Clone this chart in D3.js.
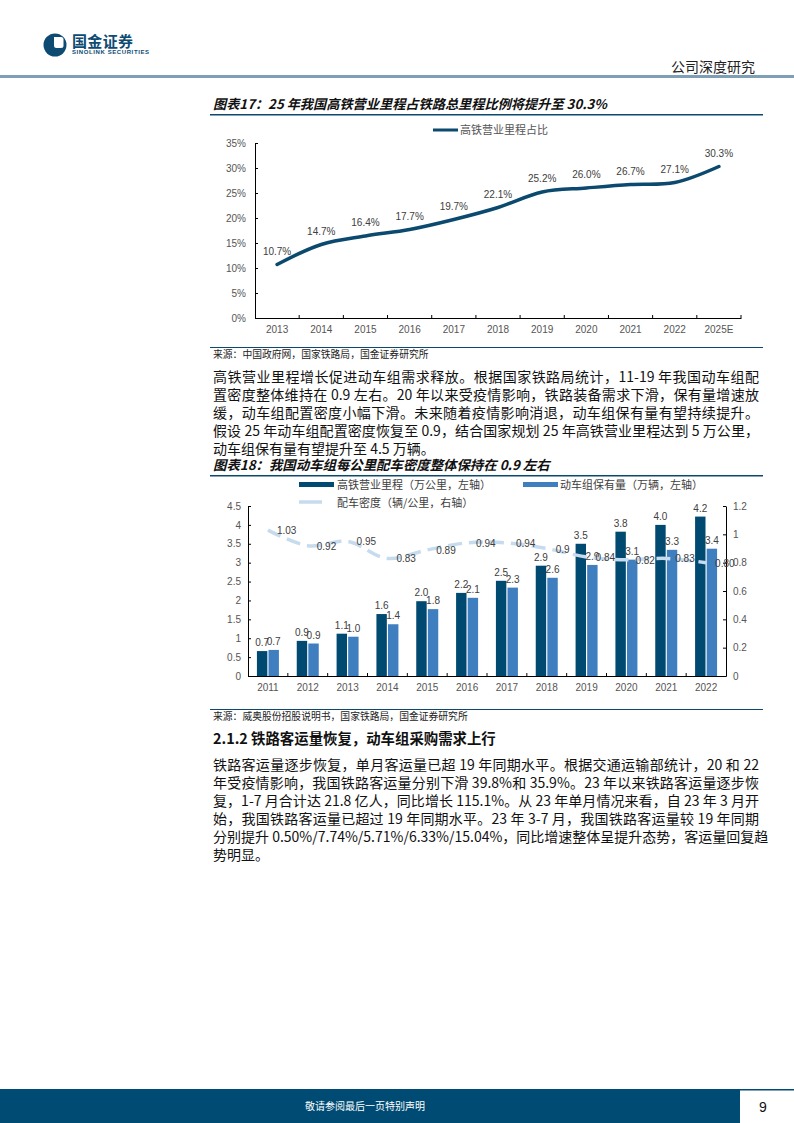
<!DOCTYPE html>
<html><head><meta charset="utf-8">
<script src="https://cdn.jsdelivr.net/npm/d3@7"></script>
<style>
html,body{margin:0;padding:0;background:#fff;}
#page{position:relative;width:794px;height:1123px;overflow:hidden;font-family:"Noto Sans CJK SC","Liberation Sans",sans-serif;}
svg{position:absolute;left:0;top:0;}
.line{position:absolute;left:213px;width:546px;font-size:14px;line-height:16px;height:16px;color:#111;white-space:nowrap;text-align:justify;text-align-last:justify;}
.line.last{text-align-last:left;}
</style></head>
<body><div id="page"><svg id="svg" width="794" height="1123"></svg></div>
<script>
// ---------- data ----------
const years1 = ["2013","2014","2015","2016","2017","2018","2019","2020","2021","2022","2025E"];
const hsrShare = [10.7,14.7,16.4,17.7,19.7,22.1,25.2,26.0,26.7,27.1,30.3];
const shareTicks = [0,5,10,15,20,25,30,35];
const legend1 = "高铁营业里程占比";

const years2 = ["2011","2012","2013","2014","2015","2016","2017","2018","2019","2020","2021","2022"];
const hsrMileage = [0.66,0.93,1.12,1.64,1.98,2.2,2.52,2.92,3.5,3.82,4.0,4.22];
const emuFleet = [0.69,0.86,1.04,1.37,1.77,2.07,2.34,2.6,2.94,3.08,3.34,3.37];
const density = [1.03,0.92,0.95,0.83,0.89,0.94,0.94,0.90,0.84,0.82,0.83,0.80];
const densityLabels = ["1.03","0.92","0.95","0.83","0.89","0.94","0.94","0.9","0.84","0.82","0.83","0.80"];
const leftTicks2 = [0,0.5,1,1.5,2,2.5,3,3.5,4,4.5];
const rightTicks2 = [0,0.2,0.4,0.6,0.8,1,1.2];
const legend2 = ["高铁营业里程（万公里，左轴）","动车组保有量（万辆，左轴）","配车密度（辆/公里，右轴）"];

const para1 = [
 "高铁营业里程增长促进动车组需求释放。根据国家铁路局统计，11-19 年我国动车组配",
 "置密度整体维持在 0.9 左右。20 年以来受疫情影响，铁路装备需求下滑，保有量增速放",
 "缓，动车组配置密度小幅下滑。未来随着疫情影响消退，动车组保有量有望持续提升。",
 "假设 25 年动车组配置密度恢复至 0.9，结合国家规划 25 年高铁营业里程达到 5 万公里，",
 "动车组保有量有望提升至 4.5 万辆。"];
const para2 = [
 "铁路客运量逐步恢复，单月客运量已超 19 年同期水平。根据交通运输部统计，20 和 22",
 "年受疫情影响，我国铁路客运量分别下滑 39.8%和 35.9%。23 年以来铁路客运量逐步恢",
 "复，1-7 月合计达 21.8 亿人，同比增长 115.1%。从 23 年单月情况来看，自 23 年 3 月开",
 "始，我国铁路客运量已超过 19 年同期水平。23 年 3-7 月，我国铁路客运量较 19 年同期",
 "分别提升 0.50%/7.74%/5.71%/6.33%/15.04%，同比增速整体呈提升态势，客运量回复趋",
 "势明显。"];

// ---------- page frame ----------
const NAVY = "#0b4a6e", DARK = "#004a72", LIGHT = "#3f7fc0", DENS = "#c6dbee";
const CJK = "'Noto Sans CJK SC', sans-serif", LAT = "'Liberation Sans', Arial, sans-serif";
const svg = d3.select("#svg");
const page = d3.select("#page");

// header logo
const logo = svg.append("g");
logo.append("circle").attr("cx",55).attr("cy",45).attr("r",11.5).attr("fill","#0d4b73");
logo.append("path").attr("d","M54,37 h7 a2.5,2.5 0 0 1 2.5,2.5 v6 a2.5,2.5 0 0 1 -2.5,2.5 h-4.5 a2.5,2.5 0 0 1 -2.5,-2.5 z").attr("fill","#fff");
svg.append("text").attr("x",72).attr("y",46.5).attr("font-family",CJK).attr("font-weight",700)
  .attr("font-size",15).attr("textLength",61).attr("fill","#0d4b73").text("国金证券");
svg.append("text").attr("x",72).attr("y",54).attr("font-family",LAT).attr("font-weight",700)
  .attr("font-size",6).attr("textLength",77).attr("fill","#0d4b73").text("SINOLINK SECURITIES");
svg.append("text").attr("x",755).attr("y",72).attr("text-anchor","end").attr("font-family",CJK)
  .attr("font-size",14).attr("fill","#222").text("公司深度研究");
svg.append("rect").attr("x",0).attr("y",75).attr("width",794).attr("height",3).attr("fill","#7f9fb6");

// footer
svg.append("rect").attr("x",0).attr("y",1089).attr("width",740).attr("height",34).attr("fill","#004b73");
svg.append("rect").attr("x",740).attr("y",1089).attr("width",54).attr("height",1.5).attr("fill","#004b73");
svg.append("text").attr("x",365).attr("y",1110).attr("text-anchor","middle").attr("font-family",CJK)
  .attr("font-size",10).attr("fill","#fff").text("敬请参阅最后一页特别声明");
svg.append("text").attr("x",763).attr("y",1112).attr("text-anchor","middle").attr("font-family",LAT)
  .attr("font-size",14).attr("fill","#111").text("9");

// titles, rules, sources
function title(y, txt, size){
  svg.append("text").attr("x",213).attr("y",y).attr("font-family",CJK).attr("font-weight",700)
    .attr("font-style","italic").attr("font-size",size).attr("fill","#111").text(txt);
}
title(109,"图表17：25 年我国高铁营业里程占铁路总里程比例将提升至 30.3%",13.2);
title(470,"图表18：我国动车组每公里配车密度整体保持在 0.9 左右",13.4);
[114,475].forEach(y=>svg.append("rect").attr("x",210).attr("y",y).attr("width",553).attr("height",1.5).attr("fill",NAVY));
[347,709].forEach(y=>svg.append("rect").attr("x",210).attr("y",y).attr("width",553).attr("height",1).attr("fill",NAVY));
svg.append("text").attr("x",213).attr("y",358).attr("font-family",CJK).attr("font-size",9.8).attr("fill","#222")
  .text("来源：中国政府网，国家铁路局，国金证券研究所");
svg.append("text").attr("x",213).attr("y",720).attr("font-family",CJK).attr("font-size",9.8).attr("fill","#222")
  .text("来源：威奥股份招股说明书，国家铁路局，国金证券研究所");
svg.append("text").attr("x",213).attr("y",744).attr("font-family",CJK).attr("font-weight",700)
  .attr("font-size",14.4).attr("fill","#111").text("2.1.2 铁路客运量恢复，动车组采购需求上行");

// paragraphs
function para(lines, top){
  lines.forEach((t,i)=>{
    page.append("div").attr("class","line"+(i===lines.length-1?" last":""))
      .style("top",(top+i*18)+"px").text(t);
  });
}
para(para1, 368);
para(para2, 756);

// ---------- chart 1 ----------
const c1 = svg.append("g");
const x1 = d3.scaleBand().domain(years1).range([255,741]);
const y1 = d3.scaleLinear().domain([0,35]).range([318,143]);
const cx1 = d => x1(d)+x1.bandwidth()/2;

const ya1 = c1.append("g").attr("transform","translate(255,0)")
  .call(d3.axisLeft(y1).tickValues(shareTicks).tickSize(-3).tickSizeOuter(0).tickPadding(9).tickFormat(d=>d+"%"));
const xa1 = c1.append("g").attr("transform","translate(0,318)")
  .call(d3.axisBottom(x1).tickSize(0).tickSizeOuter(0).tickPadding(8));
c1.append("g").selectAll("line").data(years1).join("line")
  .attr("x1",d=>x1(d)+x1.bandwidth()).attr("x2",d=>x1(d)+x1.bandwidth())
  .attr("y1",318).attr("y2",315).attr("stroke","#000");
[ya1,xa1].forEach(a=>{
  a.selectAll(".domain").attr("stroke","#000");
  a.selectAll(".tick line").attr("stroke","#000");
  a.selectAll("text").attr("font-family",LAT).attr("font-size",10).attr("fill","#555");
});

const line1 = d3.line().x((d,i)=>cx1(years1[i])).y(d=>y1(d)).curve(d3.curveCatmullRom.alpha(0.5));
c1.append("path").datum(hsrShare).attr("d",line1).attr("fill","none")
  .attr("stroke",NAVY).attr("stroke-width",3.5).attr("stroke-linecap","round");
c1.append("g").selectAll("text").data(hsrShare).join("text")
  .attr("x",(d,i)=>cx1(years1[i])).attr("y",d=>y1(d)-10).attr("text-anchor","middle")
  .attr("font-family",LAT).attr("font-size",10).attr("fill","#404040")
  .text(d=>d3.format(".1f")(d)+"%");
// legend 1
c1.append("line").attr("x1",433).attr("x2",458).attr("y1",130).attr("y2",130).attr("stroke",NAVY).attr("stroke-width",3);
c1.append("text").attr("x",460).attr("y",134).attr("font-family",CJK).attr("font-size",11).attr("fill","#555").text(legend1);

// ---------- chart 2 ----------
const c2 = svg.append("g");
const x2 = d3.scaleBand().domain(years2).range([248,726]);
const inner = d3.scaleBand().domain(["m","f"]).range([-11,11]).paddingInner(0.1);
const yL = d3.scaleLinear().domain([0,4.5]).range([676,506]);
const yR = d3.scaleLinear().domain([0,1.2]).range([676,506]);
const cx2 = d => x2(d)+x2.bandwidth()/2;

const yla = c2.append("g").attr("transform","translate(248,0)")
  .call(d3.axisLeft(yL).tickValues(leftTicks2).tickSize(-3).tickSizeOuter(0).tickPadding(7).tickFormat(d=>String(d)));
const yra = c2.append("g").attr("transform","translate(726,0)")
  .call(d3.axisRight(yR).tickValues(rightTicks2).tickSize(-3).tickSizeOuter(0).tickPadding(7).tickFormat(d=>String(d)));
const xa2 = c2.append("g").attr("transform","translate(0,676)")
  .call(d3.axisBottom(x2).tickSize(0).tickSizeOuter(0).tickPadding(8));
c2.append("g").selectAll("line").data(years2.slice(0,-1)).join("line")
  .attr("x1",d=>x2(d)+x2.bandwidth()).attr("x2",d=>x2(d)+x2.bandwidth())
  .attr("y1",676).attr("y2",673).attr("stroke","#000");
[yla,yra,xa2].forEach(a=>{
  a.selectAll(".domain").attr("stroke","#000");
  a.selectAll(".tick line").attr("stroke","#000");
  a.selectAll("text").attr("font-family",LAT).attr("font-size",10).attr("fill","#555");
});

const series = [{key:"m",vals:hsrMileage,color:DARK},{key:"f",vals:emuFleet,color:LIGHT}];
series.forEach(s=>{
  const g = c2.append("g");
  g.selectAll("rect").data(s.vals).join("rect")
    .attr("x",(d,i)=>cx2(years2[i])+inner(s.key)).attr("width",inner.bandwidth())
    .attr("y",d=>yL(d)).attr("height",d=>676-yL(d)).attr("fill",s.color);
  g.selectAll("text").data(s.vals).join("text")
    .attr("x",(d,i)=>cx2(years2[i])+inner(s.key)+inner.bandwidth()/2).attr("y",d=>yL(d)-5)
    .attr("text-anchor","middle").attr("font-family",LAT).attr("font-size",10).attr("fill","#404040")
    .text(d=>d3.format(".1f")(d));
});
const line2 = d3.line().x((d,i)=>cx2(years2[i])).y(d=>yR(d)).curve(d3.curveCatmullRom.alpha(0.5));
c2.append("path").datum(density).attr("d",line2).attr("fill","none")
  .attr("stroke",DENS).attr("stroke-width",3.5).attr("stroke-dasharray","14,7");
c2.append("g").selectAll("text").data(density).join("text")
  .attr("x",(d,i)=>cx2(years2[i])+9).attr("y",d=>yR(d)+4)
  .attr("font-family",LAT).attr("font-size",10).attr("fill","#404040")
  .text((d,i)=>densityLabels[i]);
// legend 2
c2.append("rect").attr("x",299).attr("y",482).attr("width",35).attr("height",5).attr("fill",DARK);
c2.append("text").attr("x",337).attr("y",489).attr("font-family",CJK).attr("font-size",11).attr("fill","#404040").text(legend2[0]);
c2.append("rect").attr("x",523).attr("y",482).attr("width",35).attr("height",5).attr("fill",LIGHT);
c2.append("text").attr("x",560).attr("y",489).attr("font-family",CJK).attr("font-size",11).attr("fill","#404040").text(legend2[1]);
c2.append("line").attr("x1",299).attr("x2",322).attr("y1",502).attr("y2",502).attr("stroke",DENS).attr("stroke-width",3.5);
c2.append("text").attr("x",337).attr("y",507).attr("font-family",CJK).attr("font-size",11).attr("fill","#404040").text(legend2[2]);
</script></body></html>
